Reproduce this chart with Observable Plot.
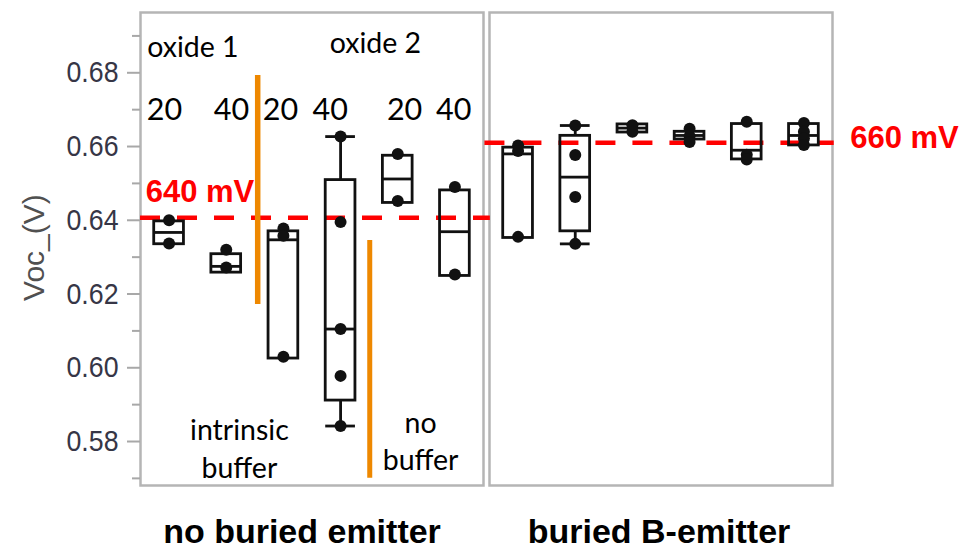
<!DOCTYPE html>
<html>
<head>
<meta charset="utf-8">
<script src="https://cdn.jsdelivr.net/npm/d3@7"></script>
<script src="https://cdn.jsdelivr.net/npm/@observablehq/plot@0.6"></script>
<style>
  html, body { margin: 0; padding: 0; background: #fff; }
  #chart svg { display: block; }
</style>
</head>
<body>
<div id="chart"></div>
<script>
// ---- data ----
const panels = ["no buried emitter", "buried B-emitter"];
const boxPanel = [0, 0, 0, 0, 0, 0, 1, 1, 1, 1, 1, 1];
const boxSlot = [0, 1, 2, 3, 4, 5, 0, 1, 2, 3, 4, 5];
const q1 = [0.6335, 0.6258, 0.6025, 0.5911, 0.6447, 0.6249, 0.6352, 0.6370, 0.6638, 0.6619, 0.6565, 0.6603];
const median = [0.6367, 0.6275, 0.6347, 0.6105, 0.6512, 0.6369, 0.6580, 0.6517, 0.6650, 0.6630, 0.6590, 0.6630];
const q3 = [0.6397, 0.6308, 0.6370, 0.6509, 0.6575, 0.6481, 0.6597, 0.6629, 0.6660, 0.6640, 0.6661, 0.6661];
const whiskerLow = [null, null, null, 0.5842, null, null, null, 0.6336, null, null, null, null];
const whiskerHigh = [null, null, null, 0.6627, null, null, null, 0.6657, null, null, null, null];

const pointBox = [0, 0, 1, 1, 2, 2, 2, 3, 3, 3, 3, 3, 4, 4, 5, 5, 6, 6, 6, 7, 7, 7, 7, 8, 8, 9, 9, 9, 10, 10, 10, 11, 11, 11, 11];
const pointVoc = [0.6400, 0.6337, 0.6320, 0.6272, 0.6378, 0.6358, 0.6030, 0.6627, 0.6395, 0.6105, 0.5978, 0.5842,
  0.6580, 0.6452, 0.6490, 0.6253, 0.6603, 0.6588, 0.6355, 0.6657, 0.6577, 0.6463, 0.6336,
  0.6658, 0.6640, 0.6648, 0.6628, 0.6612, 0.6667, 0.6578, 0.6565, 0.6664, 0.6640, 0.6622, 0.6604];

const refVoc = [0.6407, 0.6610];
const refLabels = ["640 mV", "660 mV"];
const thicknessLabels = ["20", "40", "20", "40", "20", "40"];
const oxideLabels = ["oxide 1", "oxide 2"];
const bufferLabels = ["intrinsic\nbuffer", "no\nbuffer"];
const yMajor = [0.58, 0.60, 0.62, 0.64, 0.66, 0.68];
const yMinor = [0.57, 0.59, 0.61, 0.63, 0.65, 0.67, 0.69];
const yLabel = "Voc_(V)";

// ---- derived tables ----
const boxes = boxSlot.map((s, i) => ({
  panel: panels[boxPanel[i]], slot: s, q1: q1[i], med: median[i], q3: q3[i],
  lo: whiskerLow[i], hi: whiskerHigh[i]
}));
const whiskerBoxes = boxes.filter(b => b.lo != null);
const points = pointBox.map((b, i) => ({panel: boxes[b].panel, slot: boxes[b].slot, voc: pointVoc[i]}));

const HW = 0.26; // half box width (x units)
const SW = 2.8;
const black = "#111";
const calibri = "Lato, 'Open Sans', sans-serif";
const arial = "'Liberation Sans', Arial, sans-serif";
const L = panels[0], R = panels[1];

const chart = Plot.plot({
  width: 972,
  height: 549,
  marginLeft: 140,
  marginRight: 140,
  marginTop: 12,
  marginBottom: 64,
  fx: {domain: panels, paddingInner: 0.0172, paddingOuter: 0, axis: null, label: null},
  x: {domain: [-0.5, 5.5], axis: null},
  y: {domain: [0.56807, 0.69635]},
  marks: [
    Plot.frame({stroke: "#b5b5b5", strokeWidth: 2.5}),
    // y axis (left panel)
    Plot.axisY({ticks: yMinor, tickSize: 8, tickFormat: () => "", color: "#a8a8a8", strokeWidth: 2, label: null}),
    Plot.axisY({ticks: yMajor, tickSize: 13, tickFormat: () => "", color: "#a8a8a8", strokeWidth: 2, label: null}),
    Plot.axisY({ticks: yMajor, tickSize: 0, tickPadding: 22, tickFormat: d3.format(".2f"), color: "#363646",
      fontSize: 30, fontFamily: arial, label: null}),
    Plot.text([yLabel], {fx: () => L, x: -2.35, y: 0.6326, text: d => d, rotate: -90, fontSize: 30,
      fontFamily: arial, fill: "#505050", textAnchor: "middle", lineAnchor: "middle"}),
    // reference lines
    Plot.ruleY([refVoc[0]], {fx: () => L, y: d => d, x1: -0.5, x2: 5.62, stroke: "#ff0000", strokeWidth: 4.5, strokeDasharray: "20,17"}),
    Plot.ruleY([refVoc[1]], {fx: () => R, y: d => d, x1: -0.58, x2: 5.53, stroke: "#ff0000", strokeWidth: 4.5, strokeDasharray: "20,17"}),
    // boxes
    Plot.ruleX(whiskerBoxes, {fx: "panel", x: "slot", y1: "lo", y2: "q1", stroke: black, strokeWidth: SW}),
    Plot.ruleX(whiskerBoxes, {fx: "panel", x: "slot", y1: "q3", y2: "hi", stroke: black, strokeWidth: SW}),
    Plot.ruleY(whiskerBoxes, {fx: "panel", y: "lo", x1: d => d.slot - HW, x2: d => d.slot + HW, stroke: black, strokeWidth: SW}),
    Plot.ruleY(whiskerBoxes, {fx: "panel", y: "hi", x1: d => d.slot - HW, x2: d => d.slot + HW, stroke: black, strokeWidth: SW}),
    Plot.rect(boxes, {fx: "panel", x1: d => d.slot - HW, x2: d => d.slot + HW, y1: "q1", y2: "q3",
      fill: "none", stroke: black, strokeWidth: SW}),
    Plot.ruleY(boxes, {fx: "panel", y: "med", x1: d => d.slot - HW, x2: d => d.slot + HW, stroke: black, strokeWidth: SW}),
    Plot.dot(points, {fx: "panel", x: "slot", y: "voc", r: 6, fill: black, stroke: "none"}),
    // orange separators
    Plot.ruleX([1.55], {fx: () => L, x: d => d, y1: 0.67927, y2: 0.61716, stroke: "#ee8800", strokeWidth: 5.5}),
    Plot.ruleX([3.51], {fx: () => L, x: d => d, y1: 0.63452, y2: 0.57001, stroke: "#ee8800", strokeWidth: 5}),
    // annotations
    Plot.text([refLabels[0]], {fx: () => L, x: -0.41, y: 0.64509, text: d => d, textAnchor: "start", lineAnchor: "bottom",
      fill: "#ff0000", fontSize: 31, fontWeight: "bold", fontFamily: arial}),
    Plot.text([refLabels[1]], {fx: () => R, x: 5.81, y: 0.65947, text: d => d, textAnchor: "start", lineAnchor: "bottom",
      fill: "#ff0000", fontSize: 31, fontWeight: "bold", fontFamily: arial}),
    Plot.text([oxideLabels[0]], {fx: () => L, x: -0.383, y: 0.68423, text: d => d, textAnchor: "start", lineAnchor: "bottom",
      fill: "#000", fontSize: 28.5, fontFamily: calibri}),
    Plot.text([oxideLabels[1]], {fx: () => L, x: 3.61, y: 0.68542, text: d => d, textAnchor: "middle", lineAnchor: "bottom",
      fill: "#000", fontSize: 28.5, fontFamily: calibri}),
    Plot.text(thicknessLabels, {fx: () => L, x: (d, i) => [-0.08, 1.09, 1.95, 2.82, 4.12, 4.98][i], y: 0.66733,
      text: d => d, textAnchor: "middle", lineAnchor: "bottom", fill: "#000", fontSize: 30.5, fontFamily: calibri}),
    Plot.text([bufferLabels[0]], {fx: () => L, x: 1.23, y: 0.57020, text: d => d, textAnchor: "middle", lineAnchor: "bottom",
      lineHeight: 1.33, fill: "#000", fontSize: 28.5, fontFamily: calibri}),
    Plot.text([bufferLabels[1]], {fx: () => L, x: 4.40, y: 0.57220, text: d => d, textAnchor: "middle", lineAnchor: "bottom",
      lineHeight: 1.3, fill: "#000", fontSize: 28.5, fontFamily: calibri}),
    // panel names below
    Plot.text([panels[0]], {fx: () => L, x: 2.325, y: 0.55260, text: d => d, textAnchor: "middle", lineAnchor: "bottom",
      fill: "#000", fontSize: 34, fontWeight: "bold", fontFamily: arial}),
    Plot.text([panels[1]], {fx: () => R, x: 2.465, y: 0.55260, text: d => d, textAnchor: "middle", lineAnchor: "bottom",
      fill: "#000", fontSize: 34, fontWeight: "bold", fontFamily: arial})
  ]
});
// condensed look of the tick labels (the reference uses a narrow face)
chart.querySelectorAll("text").forEach(t => {
  if (/^0\.\d\d$/.test(t.textContent.trim())) {
    t.setAttribute("textLength", "52");
    t.setAttribute("lengthAdjust", "spacingAndGlyphs");
  }
});
document.getElementById("chart").appendChild(chart);
</script>
</body>
</html>
